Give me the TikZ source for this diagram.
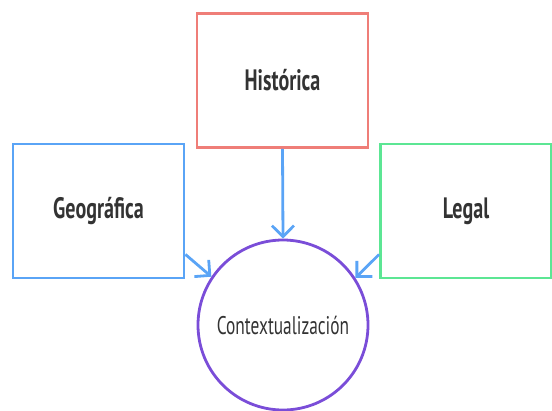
\documentclass[tikz,border=0pt]{standalone}
\usepackage{fontspec}
\setmainfont{PT Sans}
\newfontfamily\labfont[FakeStretch=0.68]{PT Sans}
\usetikzlibrary{arrows.meta,calc}
\definecolor{cblue}{HTML}{5AA4F6}
\definecolor{cred}{HTML}{EF7E78}
\definecolor{cgreen}{HTML}{5CE694}
\definecolor{cpurple}{HTML}{7A4DD8}
\definecolor{ctext}{HTML}{333333}
\begin{document}
\begin{tikzpicture}[x=1pt,y=-1pt,
  box/.style={draw, line width=2.8pt, minimum width=171pt, minimum height=134pt, inner sep=0pt,
    text=ctext, font=\labfont\bfseries\fontsize{29.5}{32}\selectfont},
  hub/.style={circle, draw=cpurple, line width=2.8pt, minimum size=170pt, inner sep=0pt,
    text=ctext, font=\labfont\fontsize{25.5}{28}\selectfont},
  conn/.style={draw=cblue, line width=2.8pt, -{Straight Barb[length=11pt,width=22pt]}}]
\useasboundingbox (0,0) rectangle (552,410);
\node[box, draw=cred] (hist) at (282.5,80.5) {Histórica};
\node[box, draw=cblue] (geo) at (98.5,211) {Geográfica};
\node[box, draw=cgreen] (legal) at (466,211) {Legal};
\node[hub] (ctx) at (283,325) {Contextualización};
\coordinate (geoout) at ($(geo.south east)+(0,-25)$);
\coordinate (legout) at ($(legal.south west)+(0,-25)$);
\draw[conn] (hist.south) -- (ctx.north);
\draw[conn] (geoout) -- (ctx.146.7);
\draw[conn] (legout) -- (ctx.33);
\end{tikzpicture}
\end{document}
